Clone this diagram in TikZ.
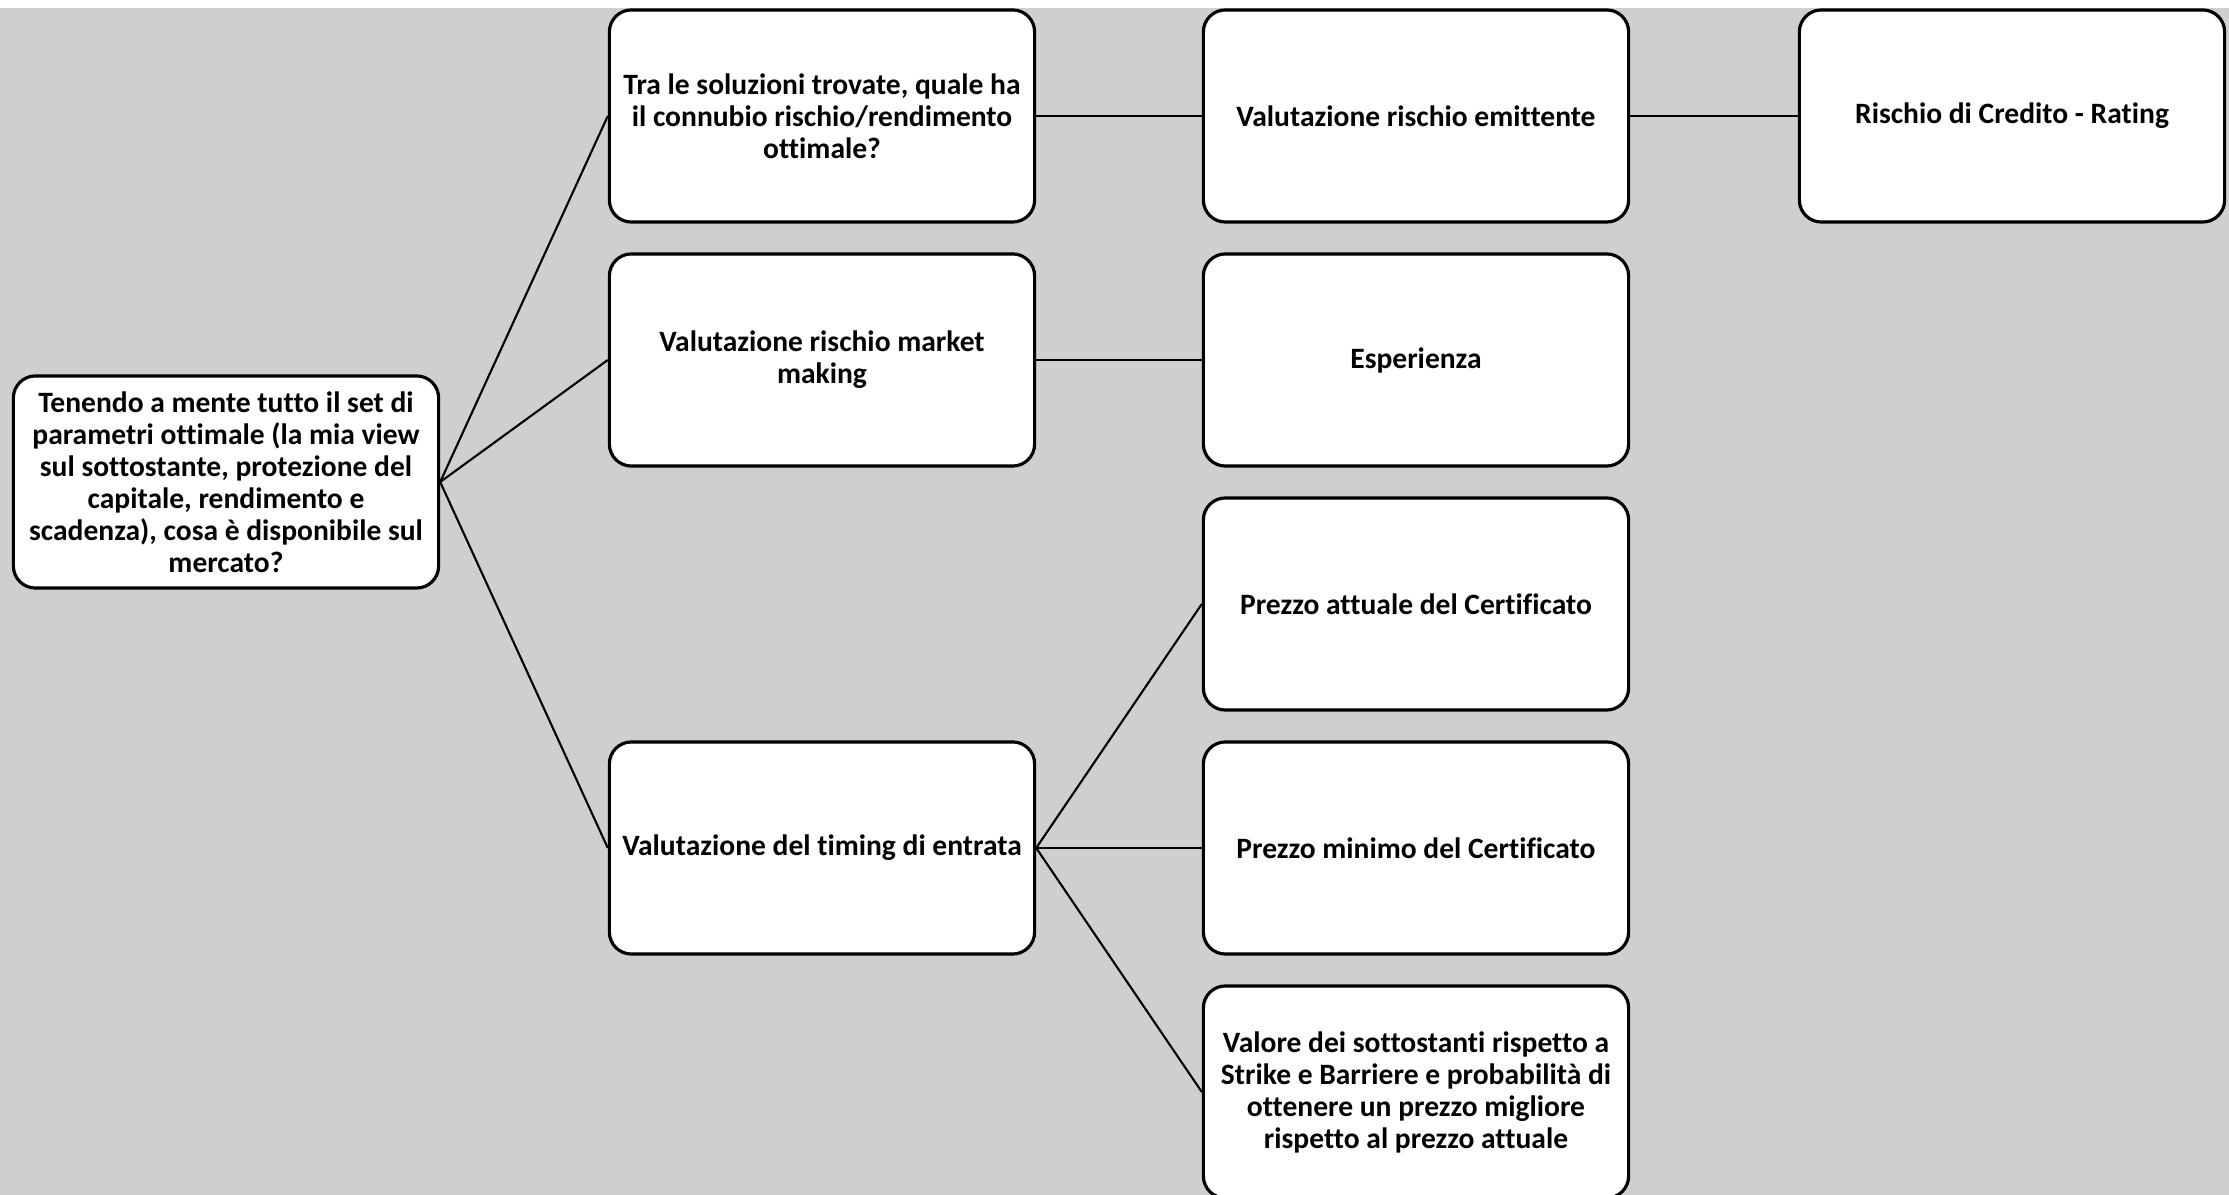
\documentclass[tikz,border=0pt]{standalone}
\usepackage{fontspec}
\setmainfont{Carlito}[Ligatures=NoCommon]

\definecolor{bggray}{HTML}{D0CECE}

\tikzset{
  box/.style={draw, line width=0.9pt, rounded corners=0.22cm, fill=white,
    minimum width=4.25cm, minimum height=2.12cm, align=center, inner sep=2pt,
    font=\fontsize{8.4}{9.1}\selectfont\bfseries},
  link/.style={line width=0.6pt}
}

\begin{document}
\begin{tikzpicture}[x=0.01cm,y=-0.01cm]
  \clip (0,0) rectangle (2229,1195);
  \fill[bggray] (0,8) rectangle (2229,1195);
  \node[box] (root) at (226,482) {Tenendo a mente tutto il set di\\parametri ottimale (la mia view\\sul sottostante, protezione del\\capitale, rendimento e\\scadenza), cosa è disponibile sul\\mercato?};
  % second column
  \node[box] (sol) at (822,116) {Tra le soluzioni trovate, quale ha\\il connubio rischio/rendimento\\ottimale?};
  \node[box] (mm) at (822,360) {Valutazione rischio market\\making};
  \node[box] (tim) at (822,848) {Valutazione del timing di entrata};
  % third column
  \node[box] (emi) at (1416,116) {Valutazione rischio emittente};
  \node[box] (esp) at (1416,360) {Esperienza};
  \node[box] (att) at (1416,604) {Prezzo attuale del Certificato};
  \node[box] (min) at (1416,848) {Prezzo minimo del Certificato};
  \node[box] (val) at (1416,1092) {Valore dei sottostanti rispetto a\\Strike e Barriere e probabilità di\\ottenere un prezzo migliore\\rispetto al prezzo attuale};
  % fourth column
  \node[box] (rat) at (2012,116) {Rischio di Credito - Rating};
  \path[link]
  (root.east) edge (sol.west)
  (root.east) edge (mm.west)
  (root.east) edge (tim.west)
  (sol) edge (emi)
  (emi) edge (rat)
  (mm) edge (esp)
  (tim.east) edge (att.west)
  (tim.east) edge (min.west)
  (tim.east) edge (val.west)
  ;
\end{tikzpicture}
\end{document}
